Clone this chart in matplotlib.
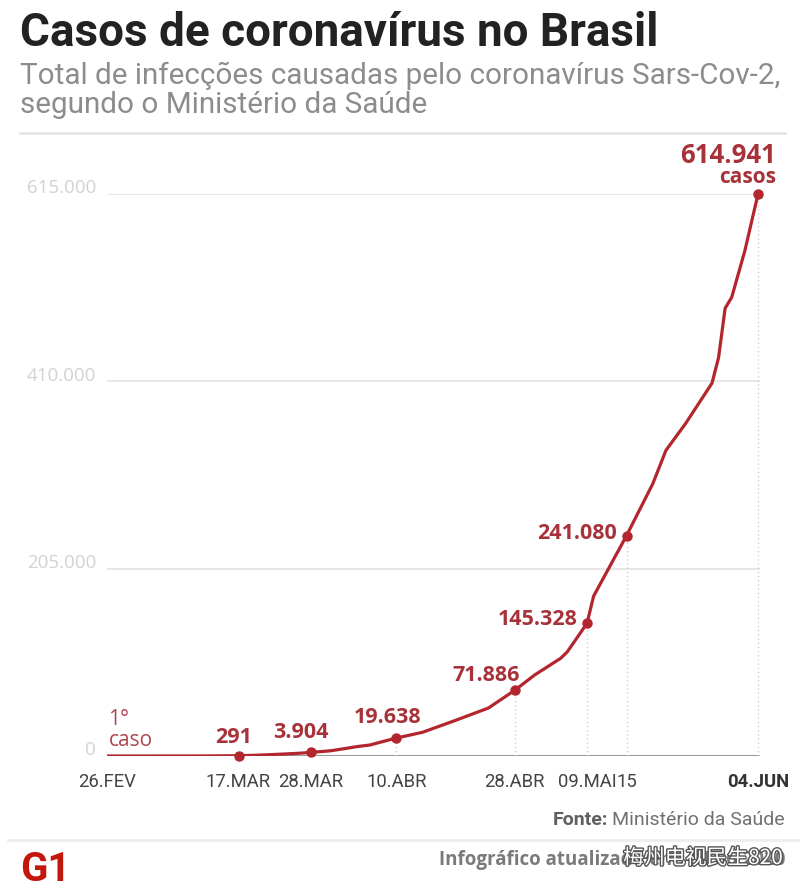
import matplotlib
matplotlib.use('Agg')
import matplotlib.pyplot as plt
import matplotlib.patheffects as pe
from matplotlib import font_manager
import pandas as pd

# dados
dates = ['2020-02-26', '2020-03-05', '2020-03-10', '2020-03-13', '2020-03-15',
         '2020-03-17', '2020-03-20', '2020-03-22', '2020-03-24', '2020-03-26',
         '2020-03-28', '2020-03-31', '2020-04-02', '2020-04-04', '2020-04-06',
         '2020-04-08', '2020-04-10', '2020-04-14', '2020-04-19', '2020-04-24',
         '2020-04-28', '2020-05-01', '2020-05-05', '2020-05-06', '2020-05-09',
         '2020-05-10', '2020-05-15', '2020-05-19', '2020-05-21', '2020-05-24',
         '2020-05-26', '2020-05-28', '2020-05-29', '2020-05-30', '2020-05-31',
         '2020-06-02', '2020-06-04']
cases = [1, 8, 34, 98, 200,
         291, 904, 1546, 2201, 2915,
         3904, 5717, 7910, 10278, 12056,
         15927, 19638, 26000, 39000, 52500,
         71886, 88500, 107000, 114000, 145328,
         175000, 241080, 298000, 334500, 364000,
         386000, 408000, 436000, 490000, 502000,
         553000, 614941]

hl_dates = ['2020-03-17', '2020-03-28', '2020-04-10', '2020-04-28',
            '2020-05-09', '2020-05-15', '2020-06-04']
hl_labels = ['291', '3.904', '19.638', '71.886', '145.328', '241.080', '614.941']

tick_dates = ['2020-02-26', '2020-03-17', '2020-03-28', '2020-04-10',
              '2020-04-28', '2020-05-09', '2020-05-15', '2020-06-04']
tick_labels = ['26.FEV', '17.MAR', '28.MAR', '10.ABR', '28.ABR', '09.MAI', '15', '04.JUN']

y_ticks = [0, 205000, 410000, 615000]
y_labels = ['0', '205.000', '410.000', '615.000']

names = {f.name for f in font_manager.fontManager.ttflist}
narrow = 'Liberation Sans Narrow' if 'Liberation Sans Narrow' in names else 'Roboto'
opens = 'Open Sans'

red = '#b3262e'
lab_red = '#a8323a'

df = pd.DataFrame({'date': pd.to_datetime(dates), 'cases': cases})
serie = df.set_index('date')['cases']
hl = pd.to_datetime(hl_dates)
hl_vals = [serie[d] for d in hl]

W, H = 804, 891
fig = plt.figure(figsize=(W / 100, H / 100), dpi=100)

def fy(py):
    return 1 - py / H

# cabecalho
fig.text(20 / W, fy(46), 'Casos de coronavírus no Brasil', fontsize=33,
         fontweight='bold', family=narrow, color='#222222', va='baseline')
fig.text(20 / W, fy(84), 'Total de infecções causadas pelo coronavírus Sars-Cov-2,',
         fontsize=21.3, family=narrow, color='#8c8c8c', va='baseline')
fig.text(20 / W, fy(113), 'segundo o Ministério da Saúde',
         fontsize=21.3, family=narrow, color='#8c8c8c', va='baseline')
fig.add_artist(plt.Line2D([20 / W, 785 / W], [fy(133), fy(133)], color='#e6e6e6', lw=2))

# area do grafico
x0 = df['date'].iloc[0]
ax = fig.add_axes([107 / W, fy(756), 653 / W, (756 - 194) / H])
ax.set_xlim(x0, x0 + pd.Timedelta(days=99.3))
ax.set_ylim(0, 615000)
for s in ax.spines.values():
    s.set_visible(False)

for v, lab in zip(y_ticks, y_labels):
    if v > 0:
        ax.axhline(v, color='#e3e3e3', lw=1.2, zorder=0)
    ax.annotate(lab, (0, v), xycoords=('axes fraction', 'data'),
                xytext=(-8, 4), textcoords='offset points', ha='right', va='center',
                fontsize=13.5, family=opens, color='#d2d2d2')
ax.axhline(0, color='#9a9a9a', lw=1.5, zorder=1)
ax.set_yticks([])

ax.vlines(hl, 0, hl_vals, colors='#cfcfcf', linestyles=(0, (1, 2)), lw=1, zorder=1)
ax.plot(df['date'], df['cases'], color=red, lw=2.3, zorder=3, solid_capstyle='round')
ax.plot(hl, hl_vals, 'o', color=red, ms=6.5, zorder=4, clip_on=False)

ax.set_xticks(pd.to_datetime(tick_dates))
ax.set_xticklabels(tick_labels, family=narrow, fontsize=13.3, color='#444444')
ax.tick_params(axis='x', length=0, pad=12)
ax.get_xticklabels()[-1].set_fontweight('bold')
ax.get_xticklabels()[-1].set_color('#333333')

# rotulos dos pontos
offsets = [(-3.5, 13, 'center'), (-7, 14, 'center'), (-6.5, 14.5, 'center'),
           (3.6, 11, 'right'), (-6.5, 3, 'right'), (-7, 1.5, 'right')]
for d, v, lab, (dx, dy, ha) in zip(hl[:-1], hl_vals[:-1], hl_labels[:-1], offsets):
    ax.annotate(lab, (d, v), xytext=(dx, dy), textcoords='offset points',
                ha=ha, va='center', fontsize=15.5, fontweight='bold',
                family=opens, color=lab_red, annotation_clip=False)
ax.annotate(hl_labels[-1], (hl[-1], hl_vals[-1]), xytext=(13, 28), textcoords='offset points',
            ha='right', va='center', fontsize=18.5, fontweight='bold',
            family=opens, color=lab_red, annotation_clip=False)
ax.annotate('casos', (hl[-1], hl_vals[-1]), xytext=(13, 12), textcoords='offset points',
            ha='right', va='center', fontsize=15, fontweight='bold',
            family=opens, color=lab_red, annotation_clip=False)
ax.annotate('1°', (x0, 0), xytext=(1, 26), textcoords='offset points',
            ha='left', va='center', fontsize=15, family=opens, color='#b04550')
ax.annotate('caso', (x0, 0), xytext=(1, 11), textcoords='offset points',
            ha='left', va='center', fontsize=15, family=opens, color='#b04550')

# rodape
fonte = fig.text(785 / W, fy(820), 'Ministério da Saúde', fontsize=14, family=narrow,
                 color='#707070', ha='right', va='center')
r = fig.canvas.get_renderer()
bb = fonte.get_window_extent(renderer=r)
fig.text((bb.x0 - 4) / W, fy(820), 'Fonte:', fontsize=14, family=narrow, fontweight='bold',
         color='#606060', ha='right', va='center')
fig.add_artist(plt.Line2D([8 / W, 798 / W], [fy(840), fy(840)], color='#eeeeee', lw=2))
fig.text(20 / W, fy(870), 'G1', fontsize=29, family=narrow, fontweight='bold',
         color='#c4170c', ha='left', va='center')
fig.text(785 / W, fy(860), 'Infográfico atualizado em: 04.06.2020', fontsize=13.5,
         family=opens, fontweight='bold', color='#7a7a7a', ha='right', va='center')
fig.text(783 / W, fy(858), '梅州电视民生820', fontsize=15,
         family=['Noto Sans CJK SC', 'DejaVu Sans'], color='white', ha='right', va='center',
         path_effects=[pe.withStroke(linewidth=2, foreground='#555555')])

plt.savefig('out.png', dpi=100)
